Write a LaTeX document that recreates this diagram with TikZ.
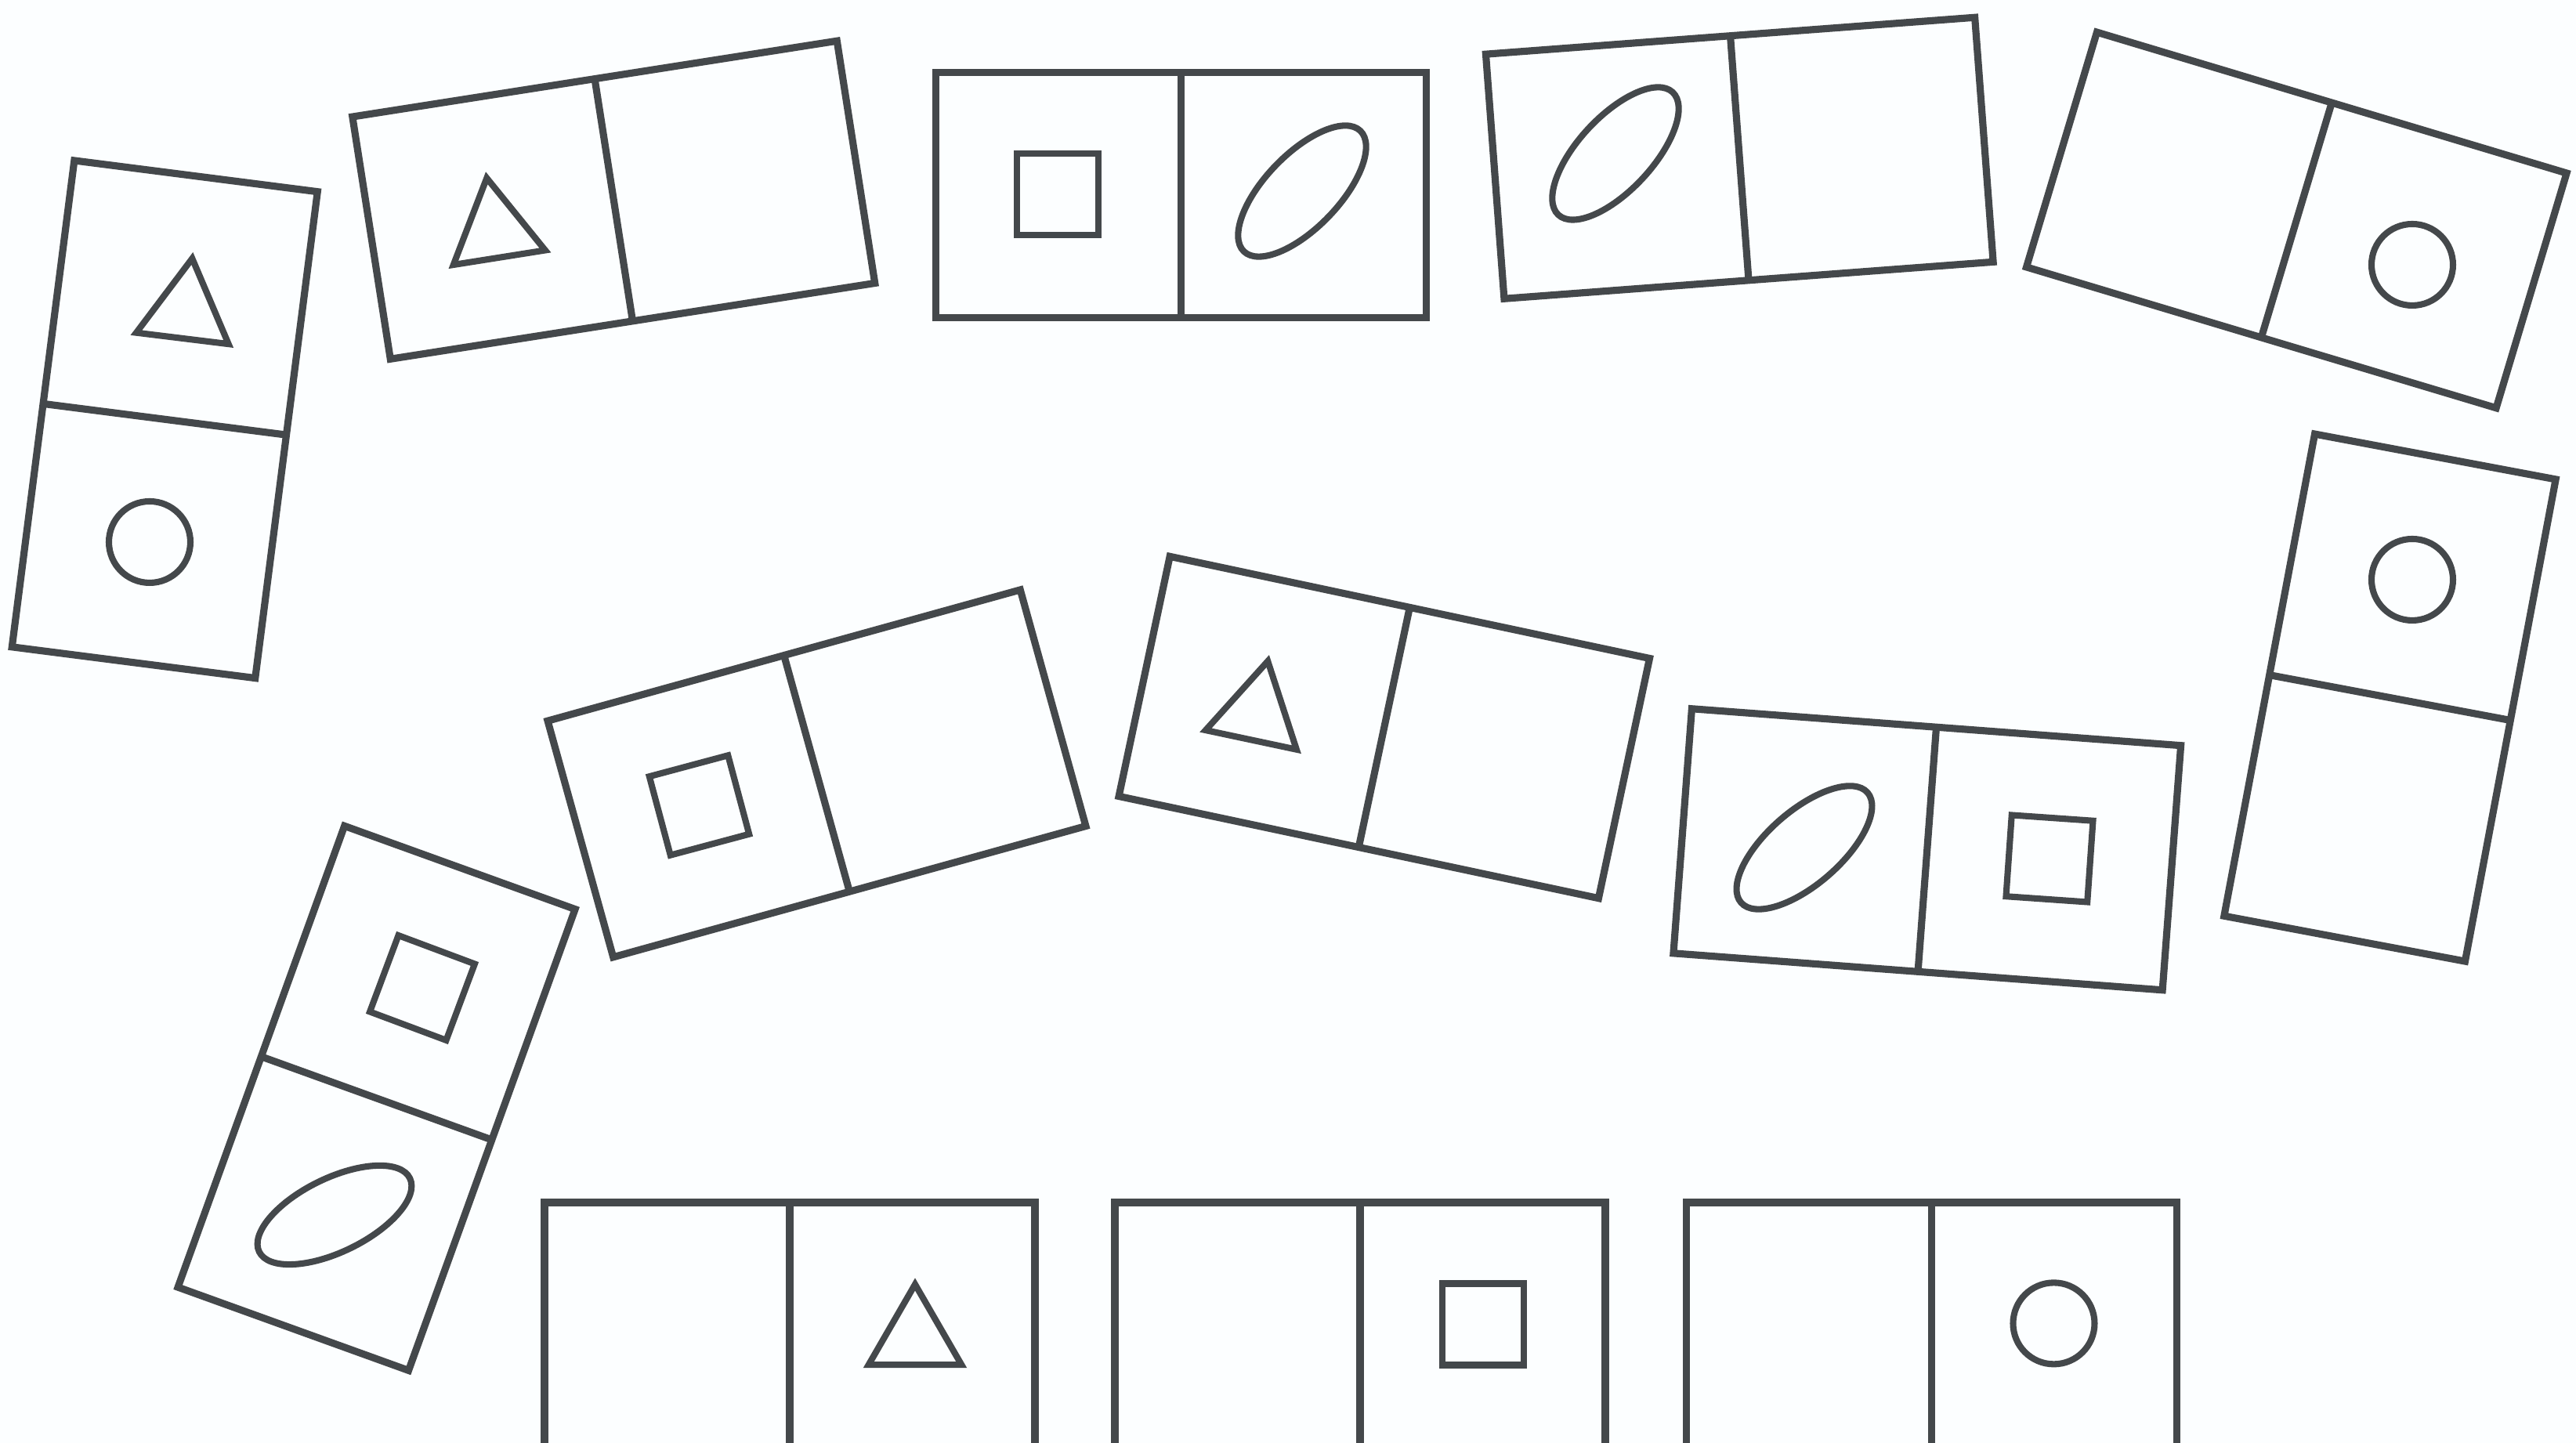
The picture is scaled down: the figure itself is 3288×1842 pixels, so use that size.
\documentclass[tikz,border=0pt]{standalone}
\definecolor{ink}{RGB}{68,72,75}
\definecolor{paper}{RGB}{252,254,255}
\tikzset{
  frame/.style={draw=ink, line width=1.3pt, line join=miter},
  shp/.style={draw=ink, line width=1.15pt, line join=miter},
}
\newcommand\domino[2]{%
  \begin{scope}[shift={(#1)}, rotate=#2]
    \draw[frame] (-313,-156.5) rectangle (313,156.5);
    \draw[frame] (0,-156.5) -- (0,156.5);
  \end{scope}}
\newcommand\tri[2]{\draw[shp,shift={(#1)},rotate=#2] (0,68.5) -- (-59.3,-34.2) -- (59.3,-34.2) -- cycle;}
\newcommand\sqr[2]{\draw[shp,shift={(#1)},rotate=#2] (-52,-52) rectangle (52,52);}
\newcommand\crc[1]{\draw[shp] (#1) circle[radius=52];}
\newcommand\elp[2]{\draw[shp] (#1) circle[x radius=107, y radius=47, rotate=#2];}
\begin{document}
\begin{tikzpicture}[x=0.005cm,y=0.005cm]
\useasboundingbox (0,0) rectangle (3288,1842);
\fill[paper] (0,0) rectangle (3288,1842);
\clip (0,0) rectangle (3288,1842);
% top row
\domino{210.3,1306.7}{-97.3}
\tri{237,1444}{-7}
\crc{191,1150}
\domino{783.3,1586.7}{8.9}
\tri{632,1547}{9}
\domino{1507.5,1593}{0}
\sqr{1350,1594}{0}
\elp{1662,1598}{46}
\domino{2220.3,1640.2}{4.3}
\elp{2062,1646}{47}
\domino{2931.3,1561}{-16.7}
\crc{3079,1504}
\domino{3050.5,951.4}{-100.65}
\crc{3079,1102}
% middle row
\domino{2459.8,757.7}{-4.3}
\elp{2303,760}{41}
\sqr{2616,746}{-4}
\domino{1766.8,913.5}{-12}
\tri{1604,931}{-12}
\domino{1042.5,854.6}{15.5}
\sqr{892.5,814}{15}
\domino{480.6,440.1}{-109.85}
\sqr{539,581}{-20.5}
\elp{427,291}{26}
% bottom row
\domino{1008,150.5}{0}
\tri{1168,134}{0}
\domino{1736,150.5}{0}
\sqr{1893,151.5}{0}
\domino{2465.8,150.5}{0}
\crc{2621.5,152.6}
\end{tikzpicture}
\end{document}
